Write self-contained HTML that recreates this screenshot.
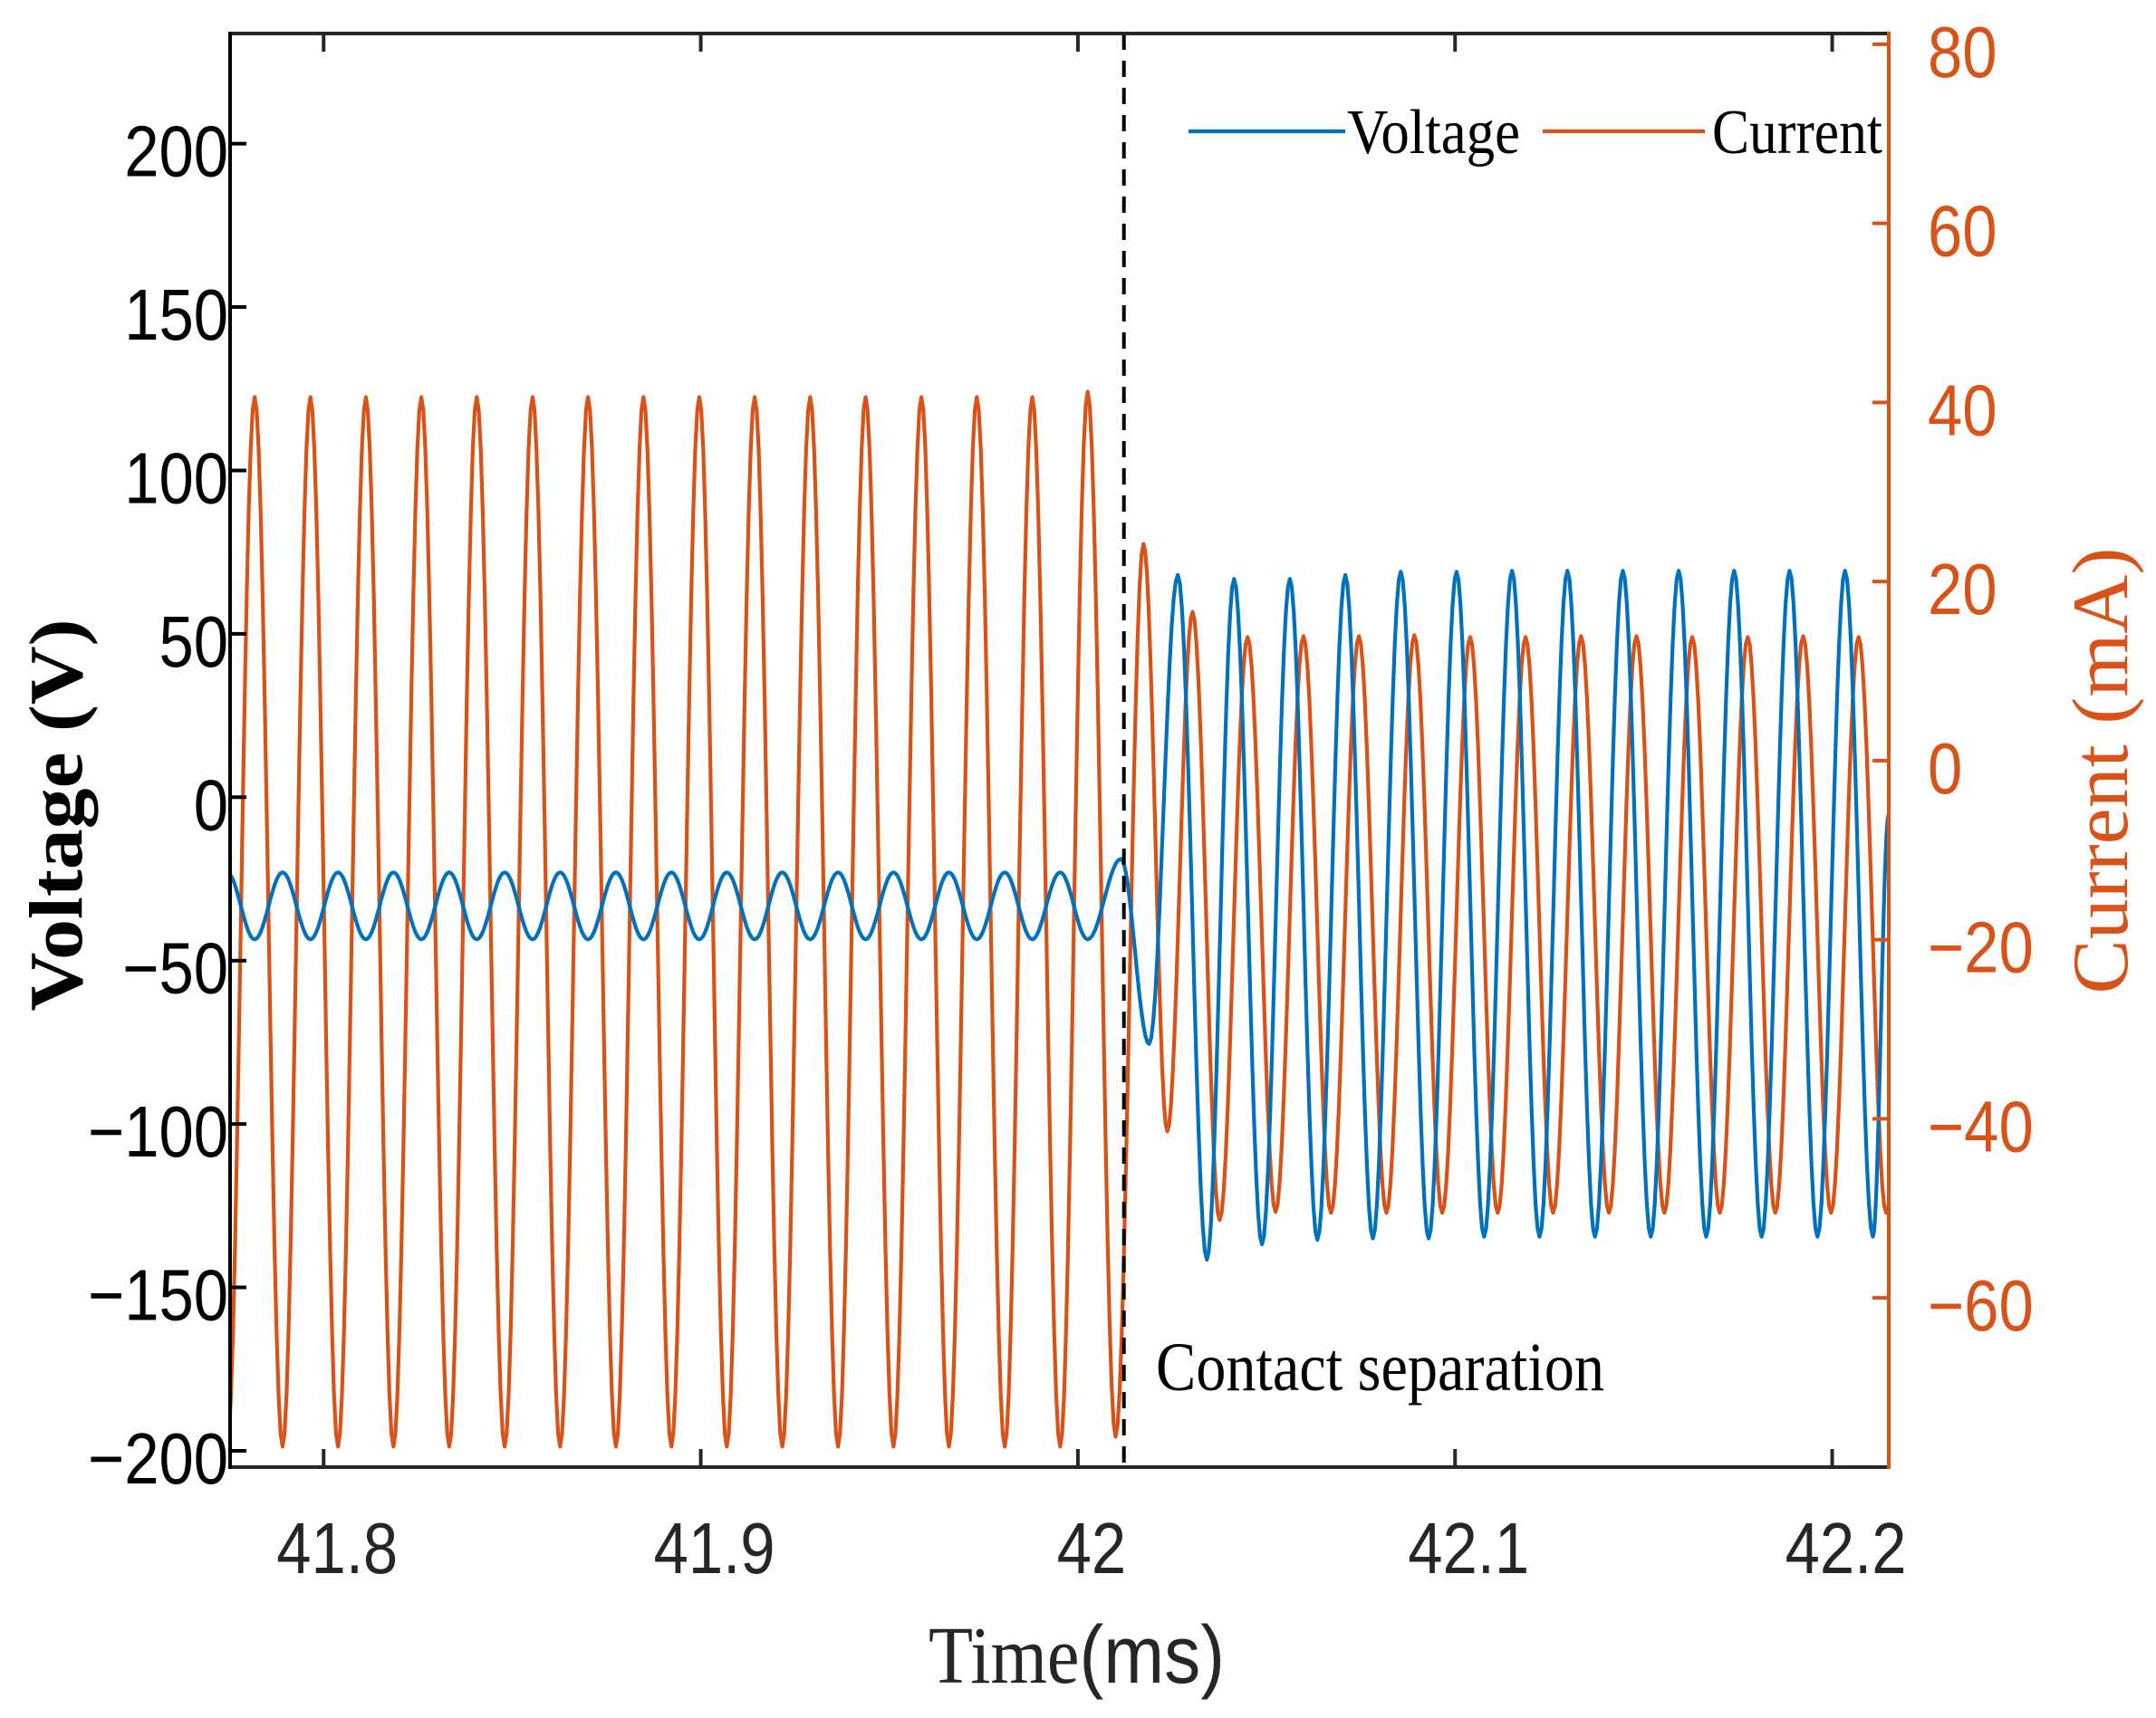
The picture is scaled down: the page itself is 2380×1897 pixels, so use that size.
<!DOCTYPE html>
<html><head><meta charset="utf-8"><style>
html,body{margin:0;padding:0;background:#fff;}
svg{display:block;}
</style></head><body>
<svg id="chart" width="2380" height="1897" viewBox="0 0 2380 1897" xmlns="http://www.w3.org/2000/svg">
<rect x="0" y="0" width="2380" height="1897" fill="#fff"/>
<g id="plot"></g>
</svg>
<script>
// ---- data (extrema) ----
const xTicks = [41.8, 41.9, 42.0, 42.1, 42.2];
const xTickLabels = ["41.8", "41.9", "42", "42.1", "42.2"];
const vTicks = [-200, -150, -100, -50, 0, 50, 100, 150, 200];
const vTickLabels = ["\u2212200", "\u2212150", "\u2212100", "\u221250", "0", "50", "100", "150", "200"];
const iTicks = [-60, -40, -20, 0, 20, 40, 60, 80];
const iTickLabels = ["\u221260", "\u221240", "\u221220", "0", "20", "40", "60", "80"];
const separationTime = 42.0122;

const currentTimes = [41.7744, 41.7817, 41.7891, 41.7965, 41.8038, 41.8112, 41.8185, 41.8259, 41.8333, 41.8406, 41.8480, 41.8554, 41.8627, 41.8701, 41.8775, 41.8848, 41.8922, 41.8996, 41.9069, 41.9143, 41.9216, 41.9290, 41.9364, 41.9437, 41.9511, 41.9585, 41.9658, 41.9732, 41.9806, 41.9879, 41.9953, 42.0026, 42.0100,
  42.0174, 42.0237, 42.0304, 42.0376, 42.0450, 42.0524, 42.0598, 42.0671, 42.0745, 42.0818, 42.0892, 42.0966, 42.1040, 42.1113, 42.1187, 42.1260, 42.1334, 42.1408, 42.1481, 42.1555, 42.1629, 42.1702, 42.1776, 42.1849, 42.1923, 42.1997, 42.2070, 42.2143, 42.2160];
const currentValues = [-76.6, 40.6, -76.6, 40.6, -76.6, 40.6, -76.6, 40.6, -76.6, 40.6, -76.6, 40.6, -76.6, 40.6, -76.6, 40.6, -76.6, 40.6, -76.6, 40.6, -76.6, 40.6, -76.6, 40.6, -76.6, 40.6, -76.6, 40.6, -76.6, 40.6, -76.6, 41.2, -75.5,
  24.2, -41.4, 16.6, -51.3, 13.8, -50.4, 13.9, -50.5, 13.9, -50.5, 14.0, -50.5, 13.8, -50.5, 13.8, -50.5, 13.9, -50.5, 13.9, -50.5, 13.8, -50.5, 13.8, -50.5, 13.9, -50.5, 13.8, -50.5, -48.0];

const voltageTimes = [41.7744, 41.7817, 41.7891, 41.7965, 41.8038, 41.8112, 41.8185, 41.8259, 41.8333, 41.8406, 41.8480, 41.8554, 41.8627, 41.8701, 41.8775, 41.8848, 41.8922, 41.8996, 41.9069, 41.9143, 41.9216, 41.9290, 41.9364, 41.9437, 41.9511, 41.9585, 41.9658, 41.9732, 41.9806, 41.9879, 41.9953, 42.0026, 42.0114,
  42.0189, 42.0265, 42.0342, 42.0414, 42.0488, 42.0562, 42.0635, 42.0709, 42.0782, 42.0856, 42.0930, 42.1004, 42.1077, 42.1151, 42.1224, 42.1298, 42.1371, 42.1445, 42.1519, 42.1593, 42.1666, 42.1740, 42.1813, 42.1887, 42.1961, 42.2034, 42.2108, 42.2150];
const voltageValues = [-23, -43.5, -23, -43.5, -23, -43.5, -23, -43.5, -23, -43.5, -23, -43.5, -23, -43.5, -23, -43.5, -23, -43.5, -23, -43.5, -23, -43.5, -23, -43.5, -23, -43.5, -23, -43.5, -23, -43.5, -23, -43.5, -18.9,
  -75.5, 68, -141.5, 66.8, -136.8, 66.8, -135.4, 68, -135, 69, -135, 69, -134.5, 69.3, -134.5, 69.3, -134.5, 69.3, -134.5, 69.3, -134.5, 69.3, -134.5, 69.3, -134.5, 69.3, -134.5, -5];

// ---- layout ----
const L = 254, R = 2085, T = 37, B = 1620;
const xMin = 41.7752, xMax = 42.2150;
const vMin = -205.0, vMax = 233.7;   // left axis
const iMin = -78.9, iMax = 81.2;     // right axis
const X = t => L + (t - xMin) / (xMax - xMin) * (R - L);
const YV = v => B - (v - vMin) / (vMax - vMin) * (B - T);
const YI = v => B - (v - iMin) / (iMax - iMin) * (B - T);

const NS = "http://www.w3.org/2000/svg";
const g = document.getElementById("plot");
function mk(tag, attrs, parent) {
  const e = document.createElementNS(NS, tag);
  for (const k in attrs) e.setAttribute(k, attrs[k]);
  (parent || g).appendChild(e);
  return e;
}

const defs = mk("defs", {});
const cp = mk("clipPath", {id: "clip"}, defs);
mk("rect", {x: L, y: T, width: R - L, height: B - T}, cp);

function curvePath(times, vals, yf) {
  let d = "";
  for (let k = 0; k < times.length - 1; k++) {
    const t0 = times[k], t1 = times[k + 1], v0 = vals[k], v1 = vals[k + 1];
    const n = 14;
    for (let j = (k === 0 ? 0 : 1); j <= n; j++) {
      const f = j / n;
      const w = (1 - Math.cos(Math.PI * f)) / 2;
      const t = t0 + (t1 - t0) * f;
      const v = v0 + (v1 - v0) * w;
      d += (d ? "L" : "M") + X(t).toFixed(1) + "," + yf(v).toFixed(1);
    }
  }
  return d;
}

const series = mk("g", {"clip-path": "url(#clip)"});


const cur = mk("path", {d: curvePath(currentTimes, currentValues, YI), fill: "none", stroke: "#D95319", "stroke-width": 4.2, "stroke-linejoin": "round"}, series);


const vol = mk("path", {d: curvePath(voltageTimes, voltageValues, YV), fill: "none", stroke: "#0072BD", "stroke-width": 4.2, "stroke-linejoin": "round"}, series);



const sep = mk("line", {x1: X(separationTime), x2: X(separationTime), y1: T, y2: B, stroke: "#000", "stroke-width": 4, "stroke-dasharray": "18,12"});



const topAx = mk("line", {x1: L, x2: R, y1: T, y2: T, stroke: "#262626", "stroke-width": 4});


const botAx = mk("line", {x1: L, x2: R, y1: B, y2: B, stroke: "#262626", "stroke-width": 4});


const leftAx = mk("line", {x1: L, x2: L, y1: T - 2, y2: B + 2, stroke: "#000", "stroke-width": 4});


const rightAx = mk("line", {x1: R, x2: R, y1: T - 2, y2: B + 2, stroke: "#D95319", "stroke-width": 4});



function label(txt, x, y, size, fill, anchor, sx, family) {
  const e = mk("text", {transform: "translate(" + x + "," + y + ") scale(" + sx + ",1)", "font-size": size, fill: fill, "text-anchor": anchor, "font-family": family || '"Liberation Sans", Arial, sans-serif'});
  e.textContent = txt;
  return e;
}

xTicks.forEach((t, i) => {
  const x = X(t);
  const a = mk("line", {x1: x, x2: x, y1: B, y2: B - 20, stroke: "#262626", "stroke-width": 4});
  
  
  const b = mk("line", {x1: x, x2: x, y1: T, y2: T + 20, stroke: "#262626", "stroke-width": 4});
  
  
  const lb = label(xTickLabels[i], x + 15, 1737, 80, "#262626", "middle", 0.86);
  
  
});
vTicks.forEach((v, i) => {
  const y = YV(v);
  const a = mk("line", {x1: L, x2: L + 18, y1: y, y2: y, stroke: "#000", "stroke-width": 4});
  
  
  const lb = label(vTickLabels[i], 252, y + 36, 80, "#000", "end", 0.86);
  
  
});
iTicks.forEach((v, i) => {
  const y = YI(v);
  const a = mk("line", {x1: R, x2: R - 18, y1: y, y2: y, stroke: "#D95319", "stroke-width": 4});
  
  
  const lb = label(iTickLabels[i], 2128, y + 36, 80, "#D95319", "start", 0.86);
  
  
});

const serif = '"Liberation Serif", "Times New Roman", serif';
const xt = mk("text", {x: 1025, y: 1858, "font-size": 90, fill: "#262626", "font-family": serif});


const ts1 = mk("tspan", {}, xt); ts1.textContent = "Time";
const ts2 = mk("tspan", {"font-family": '"Liberation Sans", sans-serif'}, xt); ts2.textContent = "(ms)";
xt.setAttribute("textLength", 327);
xt.setAttribute("lengthAdjust", "spacingAndGlyphs");

const yl = mk("text", {transform: "translate(90,900) rotate(-90)", "font-size": 84, "font-weight": "bold", fill: "#000", "text-anchor": "middle", "font-family": serif, textLength: 433, lengthAdjust: "spacingAndGlyphs"});
yl.textContent = "Voltage (V)";



const yr = mk("text", {transform: "translate(2348,851) rotate(-90)", "font-size": 88, fill: "#D95319", "text-anchor": "middle", "font-family": serif, textLength: 493, lengthAdjust: "spacingAndGlyphs"});
yr.textContent = "Current (mA)";



const ann = mk("text", {x: 1276, y: 1535, "font-size": 76, fill: "#000", "font-family": serif, textLength: 495, lengthAdjust: "spacingAndGlyphs"});
ann.textContent = "Contact separation";



const lg = mk("g", {});


const l1 = mk("line", {x1: 1312, x2: 1485, y1: 145, y2: 145, stroke: "#0072BD", "stroke-width": 4.2}, lg);


const t1 = mk("text", {x: 1487, y: 169, "font-size": 70, fill: "#000", "font-family": serif, textLength: 191, lengthAdjust: "spacingAndGlyphs"}, lg);
t1.textContent = "Voltage";


const l2 = mk("line", {x1: 1703, x2: 1882, y1: 145, y2: 145, stroke: "#D95319", "stroke-width": 4.2}, lg);


const t2 = mk("text", {x: 1890, y: 169, "font-size": 70, fill: "#000", "font-family": serif, textLength: 188, lengthAdjust: "spacingAndGlyphs"}, lg);
t2.textContent = "Current";


</script>
</body></html>
